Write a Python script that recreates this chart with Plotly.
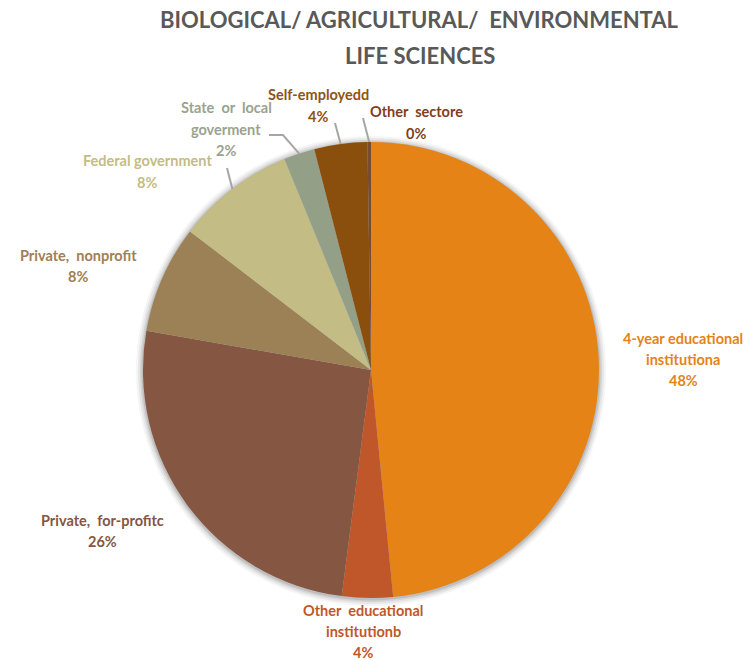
import math
import plotly.graph_objects as go

# ---- data ----
categories = ["4-year educational institutiona", "Other educational institutionb",
              "Private, for-profitc", "Private, nonprofit", "Federal government",
              "State or local goverment", "Self-employedd", "Other sectore"]
label_lines = [["4-year educational", "institutiona"],
               ["Other  educational", "institutionb"],
               ["Private,  for-profitc"],
               ["Private,  nonprofit"],
               ["Federal government"],
               ["State  or  local", "goverment"],
               ["Self-employedd"],
               ["Other  sectore"]]
values = [48.45, 3.6, 25.7, 7.65, 8.4, 2.2, 3.75, 0.25]

# ---- style ----
slice_colors = ["#E58317", "#C0572B", "#855641", "#9C8056", "#C3BC84",
                "#949F88", "#8A4E0D", "#7A4A35"]
label_colors = ["#E58317", "#C0572B", "#855641", "#9C8056", "#C3BC84",
                "#9AA38E", "#8F5412", "#7F3F1E"]
W, H = 755, 660
CX, CY, R = 371, 370, 228
# label anchor (center x, first line y) in pixels
label_pos = [(683, 338), (363, 610), (102, 520), (78, 255), (147, 161),
             (226, 108), (318, 95), (416, 112)]
# leader line label-side points (pixels); None = no leader
leader_start = [None, None, None, None, [(227, 168)],
                [(269, 135), (283, 135)], [(335, 123)], [(363, 118)]]
LINE_SP = 21
FONT = "Lato"


def px2paper(x, y):
    return x / W, 1 - y / H


fig = go.Figure(go.Pie(
    labels=categories, values=values, sort=False, direction="clockwise",
    rotation=0, marker=dict(colors=slice_colors, line=dict(width=0)),
    textinfo="none", hoverinfo="label+percent", showlegend=False,
    domain=dict(x=[(CX - R) / W, (CX + R) / W],
                y=[(H - CY - R) / H, (H - CY + R) / H]),
))

total = sum(values)
annotations = []
shapes = []

# soft shadow around the pie
for d, op in [(7, 0.04), (5, 0.06), (3, 0.08), (1.5, 0.1)]:
    x0, y0 = px2paper(CX - R - d, CY - R - d + 1)
    x1, y1 = px2paper(CX + R + d, CY + R + d + 1)
    shapes.append(dict(type="circle", xref="paper", yref="paper",
                       x0=x0, x1=x1, y0=y1, y1=y0, layer="below",
                       fillcolor=f"rgba(0,0,0,{op})", line=dict(width=0)))

cum = 0.0
for i, v in enumerate(values):
    pct = round(v / total * 100)
    mid = (cum + v / 2) / total * 2 * math.pi
    cum += v
    lines = label_lines[i] + [f"{pct}%"]
    lx, ly = label_pos[i]
    for k, t in enumerate(lines):
        x, y = px2paper(lx, ly + k * LINE_SP)
        annotations.append(dict(
            x=x, y=y, xref="paper", yref="paper", text=f"<b>{t}</b>",
            showarrow=False, xanchor="center", yanchor="middle",
            font=dict(family=FONT, size=14.5, color=label_colors[i])))
    if leader_start[i]:
        ex = CX + R * math.sin(mid)
        ey = CY - R * math.cos(mid)
        pts = leader_start[i] + [(ex, ey)]
        path = "M " + " L ".join(
            f"{px2paper(a, b)[0]:.5f},{px2paper(a, b)[1]:.5f}" for a, b in pts)
        shapes.append(dict(type="path", path=path, xref="paper", yref="paper",
                           line=dict(color="#A6A6A6", width=2)))

for k, t in enumerate(["BIOLOGICAL/ AGRICULTURAL/  ENVIRONMENTAL", "LIFE SCIENCES"]):
    x, y = px2paper(420, 20 + k * 36)
    annotations.append(dict(
        x=x, y=y, xref="paper", yref="paper", text=f"<b>{t}</b>",
        showarrow=False, xanchor="center", yanchor="middle",
        font=dict(family=FONT, size=22, color="#595959")))

fig.update_layout(
    width=W, height=H, margin=dict(l=0, r=0, t=0, b=0),
    paper_bgcolor="white", plot_bgcolor="white",
    annotations=annotations, shapes=shapes,
)
fig.write_html("out.html")
